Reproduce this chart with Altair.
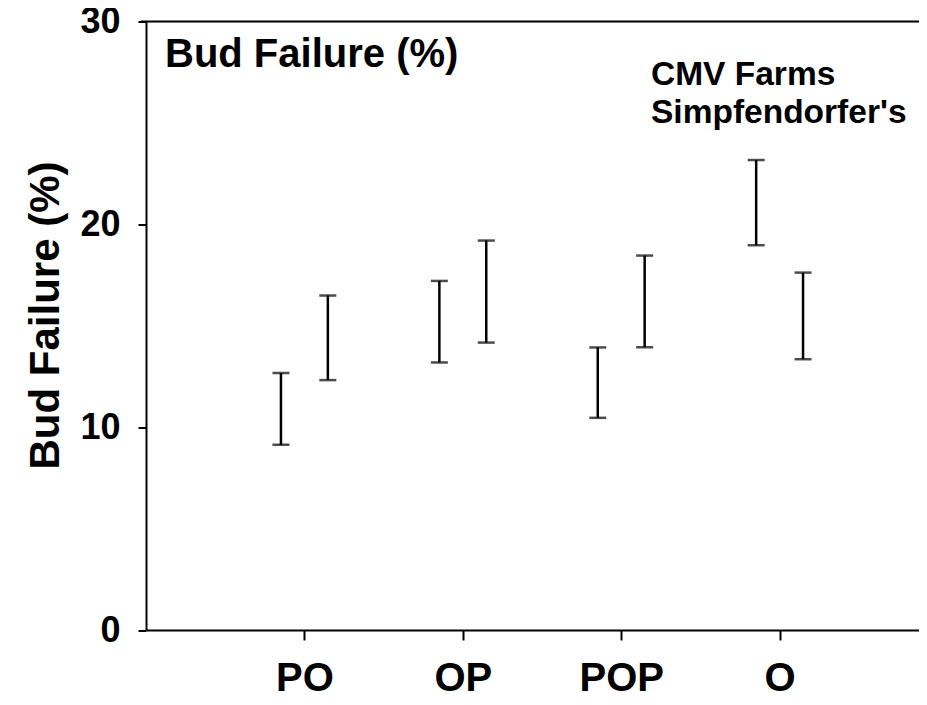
import altair as alt
import pandas as pd

categories = ["PO", "OP", "POP", "O"]
series = ["CMV Farms", "Simpfendorfer's"]
cmv_low = [9.13, 13.19, 10.46, 18.97]
cmv_high = [12.67, 17.21, 13.93, 23.17]
simp_low = [12.32, 14.17, 13.94, 13.35]
simp_high = [16.49, 19.20, 18.46, 17.62]
y_ticks = [0, 10, 20, 30]

OFFSET = 0.148
FONT = "Liberation Sans"

rows = []
for i, c in enumerate(categories):
    rows.append({"cat": c, "series": series[0], "x": i + 1 - OFFSET, "lo": cmv_low[i], "hi": cmv_high[i]})
    rows.append({"cat": c, "series": series[1], "x": i + 1 + OFFSET, "lo": simp_low[i], "hi": simp_high[i]})
df = pd.DataFrame(rows)

label_expr = "['', 'PO', 'OP', 'POP', 'O'][datum.value]"

xscale = alt.Scale(domain=[0, 4.88], nice=False, zero=False)
yscale = alt.Scale(domain=[0, 30], nice=False)

xenc = alt.X("x:Q", scale=xscale, axis=alt.Axis(
    values=[1, 2, 3, 4], labelExpr=label_expr, title=None, grid=False,
    labelFont=FONT, labelFontSize=40, labelFontWeight="bold", labelColor="black",
    labelBaseline="top", labelPadding=18, tickSize=10, tickWidth=2, tickColor="black",
    domainColor="black", domainWidth=2, labelFlush=False))
yenc = alt.Y("lo:Q", scale=yscale, axis=alt.Axis(
    values=y_ticks, title="Bud Failure (%)", grid=False,
    labelFont=FONT, labelFontSize=36, labelFontWeight="bold", labelColor="black",
    labelPadding=18, tickSize=8, tickWidth=2, tickColor="black",
    domainColor="black", domainWidth=2, labelFlush=False,
    titleFont=FONT, titleFontSize=42, titleFontWeight="bold", titleColor="black",
    titleX=-101, titleY=293.5, titleAngle=270, titleAlign="center", titleBaseline="middle"))

base = alt.Chart(df)

rules = base.mark_rule(color="black", strokeWidth=2.5).encode(x=xenc, y=yenc, y2="hi:Q")
cap_lo = base.mark_tick(color="black", thickness=2.5, size=17, orient="horizontal").encode(
    x=alt.X("x:Q", scale=xscale), y=alt.Y("lo:Q", scale=yscale))
cap_hi = base.mark_tick(color="black", thickness=2.5, size=17, orient="horizontal").encode(
    x=alt.X("x:Q", scale=xscale), y=alt.Y("hi:Q", scale=yscale))

top_line = alt.Chart(pd.DataFrame({"v": [30]})).mark_rule(color="black", strokeWidth=2).encode(
    y=alt.Y("v:Q", scale=yscale), x=alt.value(-5), x2=alt.value(773))

title_txt = alt.Chart(pd.DataFrame({"t": ["Bud Failure (%)"]})).mark_text(
    font=FONT, fontSize=40, fontWeight="bold", color="black", align="left", baseline="middle").encode(
    text="t:N", x=alt.value(19), y=alt.value(33.5))

legend_df = pd.DataFrame({"t": series, "yy": [53.5, 91.5]})
legend_txt = alt.Chart(legend_df).mark_text(
    font=FONT, fontSize=33.5, fontWeight="bold", color="black", align="left", baseline="middle").encode(
    text="t:N", x=alt.value(505), y=alt.Y("yy:Q", scale=None, axis=None))

chart = alt.layer(rules, cap_lo, cap_hi, top_line, title_txt, legend_txt).properties(
    width=773, height=608.5,
    autosize=alt.AutoSizeParams(type="none"),
    padding={"left": 138, "top": 13.5, "right": 0, "bottom": 67},
).configure_view(stroke=None).configure(background="white")

chart.save("out.html", embed_options={"renderer": "svg", "actions": False})
